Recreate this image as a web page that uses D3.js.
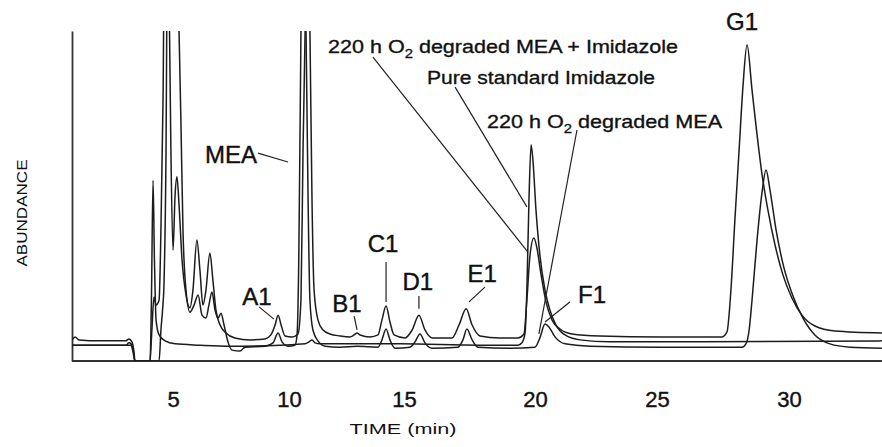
<!DOCTYPE html>
<html>
<head>
<meta charset="utf-8">
<title>Chromatogram</title>
<script src="https://d3js.org/d3.v7.min.js"></script>
<style>
  body { margin: 0; background: #fff; }
  svg { display: block; font-family: "Liberation Sans", Arial, sans-serif; }
  .trace { fill: none; stroke: #1c1c1c; stroke-width: 1.5; stroke-linejoin: round; }
  .leader { stroke: #222; stroke-width: 1.2; }
  .axis-line { stroke: #333; stroke-width: 1.8; }
  .peak-label { font-size: 24px; fill: #111; stroke: #111; stroke-width: 0.4px; }
  .note { font-size: 19px; fill: #111; stroke: #111; stroke-width: 0.35px; }
</style>
</head>
<body>
<svg width="882" height="447"></svg>
<script>
// time (min) and abundance (% of the plotted full scale, >100 is off scale)
const xTicks = [5, 10, 15, 20, 25, 30];
const timeRange = [0.65, 33.52];

// 220 h O2 degraded MEA + Imidazole
const mixTrace = [[0.65,6.4],[0.78,7.3],[0.95,6.4],[1.85,6.1],[2.97,6.1],[3.10,6.7],[3.23,5.8],[3.32,2.7],[3.36,0],[4.01,0],
  [4.09,9.4],[4.18,19.4],[4.27,17.0],[4.40,18.5],[4.48,39.7],[4.57,79],[4.66,150],[4.74,150],[4.85,100],[4.91,63.9],
  [5.00,33.6],[5.09,50.3],[5.17,55.8],[5.26,47.3],[5.39,30.6],[5.56,20.0],[5.73,16.1],[5.86,21.5],[6.03,36.7],[6.16,27.6],
  [6.29,17.0],[6.42,21.5],[6.59,32.7],[6.72,24.5],[6.85,15.5],[7.03,10.9],[7.28,8.5],[7.67,7.0],[8.32,6.4],[8.97,6.7],
  [9.22,7.9],[9.40,10.9],[9.53,13.9],[9.66,10.9],[9.83,7.6],[10.13,7.3],[10.39,8.2],[10.52,18.5],[10.61,63.9],[10.70,100],
  [10.78,150],[10.91,100],[11.00,48.8],[11.09,21.5],[11.26,12.4],[11.48,9.4],[11.78,8.2],[12.22,7.6],[12.65,7.3],[12.83,7.9],
  [12.96,8.5],[13.09,7.9],[13.52,7.3],[13.87,7.9],[14.04,12.4],[14.22,16.7],[14.39,11.8],[14.57,7.9],[15.04,7.0],[15.31,9.4],
  [15.57,13.9],[15.80,9.4],[16.07,7.0],[16.83,7.0],[17.10,10.9],[17.37,15.8],[17.60,10.9],[17.90,7.6],[18.66,7.0],[19.35,7.0],
  [19.58,8.2],[19.69,18.5],[19.81,32.1],[19.96,37.3],[20.08,34.2],[20.25,26.1],[20.45,17.9],[20.70,12.4],[21.02,9.7],[21.52,8.2],
  [22.66,7.6],[25.11,7.3],[27.46,7.3],[27.65,8.8],[27.80,21.5],[27.95,42.7],[28.11,63.9],[28.26,83.6],[28.41,95.8],[28.60,82.1],
  [28.79,68.5],[28.98,56.4],[29.20,45.8],[29.47,35.2],[29.77,26.1],[30.11,19.1],[30.49,13.9],[30.98,10.6],[31.74,9.1],[33.52,8.5]];

// 220 h O2 degraded MEA
const meaTrace = [[0.65,4.8],[1.85,4.8],[2.97,4.8],[3.10,5.5],[3.19,5.2],[3.28,3.3],[3.36,0],[4.40,0],[4.48,9.4],[4.55,15.5],
  [4.61,23.0],[4.70,63.9],[4.78,150],[4.96,160],[5.13,150],[5.26,100],[5.34,73.0],[5.43,39.7],[5.56,21.5],[5.73,14.8],
  [5.91,17.0],[6.08,20.0],[6.25,13.9],[6.42,13.0],[6.55,17.0],[6.68,20.9],[6.81,15.5],[6.94,13.0],[7.07,14.5],[7.20,10.9],
  [7.37,5.8],[7.54,3.3],[7.89,3.0],[8.10,4.2],[8.97,4.5],[9.31,5.5],[9.53,8.5],[9.70,5.8],[9.96,4.5],[10.26,4.8],
  [10.35,7.9],[10.43,33.6],[10.52,100],[10.61,150],[10.74,100],[10.83,48.8],[10.91,18.5],[11.04,9.4],[11.26,6.1],[11.57,4.5],
  [12.22,4.2],[12.96,4.5],[13.87,4.2],[14.04,6.4],[14.22,9.7],[14.39,6.4],[14.61,3.9],[15.23,4.2],[15.42,5.8],[15.61,8.2],
  [15.80,5.5],[16.07,3.9],[17.06,4.2],[17.25,6.4],[17.40,9.7],[17.60,6.4],[17.82,4.2],[19.05,3.9],[20.00,4.2],[20.20,7.0],
  [20.41,11.2],[20.57,10.3],[20.82,7.3],[21.23,5.2],[22.25,4.5],[25.11,4.2],[28.22,4.2],[28.37,5.2],[28.49,9.4],[28.60,18.5],
  [28.79,36.7],[28.98,51.2],[29.13,57.9],[29.28,51.8],[29.51,39.7],[29.81,28.2],[30.15,19.7],[30.53,13.0],[30.98,7.9],[31.55,5.2],
  [32.31,4.2],[33.52,3.9]];

// Pure standard Imidazole
const imidTrace = [[0.65,4.8],[2.97,4.8],[3.19,4.8],[3.28,2.7],[3.36,0],[4.01,0],[4.07,18.5],[4.14,54.8],[4.20,30.6],[4.27,12.4],
  [4.40,7.9],[4.66,6.1],[5.09,5.2],[6.16,4.8],[7.46,4.5],[9.61,4.8],[10.70,5.2],[10.87,5.8],[11.00,6.4],[11.13,5.5],
  [11.35,5.2],[14.83,5.2],[17.90,4.8],[19.35,4.8],[19.50,5.5],[19.62,8.5],[19.69,21.5],[19.77,48.8],[19.85,65.5],[19.92,60.9],
  [20.04,45.8],[20.20,32.1],[20.41,21.5],[20.61,15.5],[20.86,10.9],[21.23,7.9],[21.84,6.4],[23.07,5.8],[26.63,5.8],[33.52,6.1]];

// peak labels: text position and leader (time, abundance)
const peakLabels = [
  {name: 'MEA', t: 8.62, v: 60.0, anchor: 'end', from: [8.66, 63.0], to: [9.96, 60.3]},
  {name: 'A1', t: 8.62, v: 17.0, anchor: 'middle', from: [8.71, 16.4], to: [9.35, 12.7]},
  {name: 'B1', t: 12.52, v: 14.8, anchor: 'middle', from: [12.83, 13.6], to: [12.96, 9.4]},
  {name: 'C1', t: 14.09, v: 33.0, anchor: 'middle', from: [14.22, 30.0], to: [14.22, 17.9]},
  {name: 'D1', t: 15.53, v: 21.5, anchor: 'middle', from: [15.57, 19.7], to: [15.57, 15.8]},
  {name: 'E1', t: 17.98, v: 23.9, anchor: 'middle', from: [18.09, 22.4], to: [17.48, 17.9]},
  {name: 'F1', t: 22.34, v: 17.6, anchor: 'middle', from: [21.43, 17.9], to: [20.41, 11.8]},
  {name: 'G1', t: 28.22, v: 100.3, anchor: 'middle', from: null, to: null}
];

// trace names (with O2 subscript) and their leaders
const notes = [
  {pre: '220 h O', sub: '2', post: ' degraded MEA + Imidazole', t: 11.70, v: 93.3, len: 350, from: [13.65, 92.1], to: [19.73, 33.0]},
  {pre: 'Pure standard Imidazole', sub: '', post: '', t: 15.88, v: 83.9, len: 228, from: [16.95, 83.0], to: [19.69, 46.7]},
  {pre: '220 h O', sub: '2', post: ' degraded MEA', t: 18.17, v: 70.6, len: 235, from: [21.72, 70.0], to: [20.16, 8.2]}
];

const svg = d3.select('svg');
const margin = {top: 31, right: 0, bottom: 86, left: 72};
const width = svg.attr('width') - margin.left - margin.right;
const height = svg.attr('height') - margin.top - margin.bottom;

// the printed time axis is not evenly spaced, so map each tick to where it sits
const x = d3.scaleLinear().domain(xTicks).range([101, 217, 332, 463, 585, 717]);
const y = d3.scaleLinear().domain([0, 100]).range([height, 0]);

const g = svg.append('g').attr('transform', 'translate(' + margin.left + ',' + margin.top + ')');

g.append('clipPath').attr('id', 'plot-clip')
  .append('rect').attr('x', 0).attr('y', 0).attr('width', width).attr('height', height);

// axes
const xAxis = g.append('g')
  .attr('transform', 'translate(0,' + height + ')')
  .call(d3.axisBottom(x).tickValues(xTicks).tickSize(0).tickSizeOuter(0));
xAxis.select('.domain').remove();
xAxis.selectAll('text')
  .attr('y', 46).attr('dy', null)
  .style('font-size', '22px').style('fill', '#111')
  .style('stroke', '#111').style('stroke-width', '0.4px')
  .style('font-family', '"Liberation Sans", Arial, sans-serif');

g.append('line').attr('class', 'axis-line')
  .attr('x1', x(timeRange[0])).attr('x2', x(timeRange[1]))
  .attr('y1', height).attr('y2', height);

const yAxis = g.append('g').call(d3.axisLeft(y).tickValues([]).tickSizeOuter(0));
yAxis.select('.domain').attr('class', 'axis-line');

// axis titles
svg.append('text')
  .attr('x', 403).attr('y', 434)
  .attr('text-anchor', 'middle')
  .attr('textLength', 107).attr('lengthAdjust', 'spacingAndGlyphs')
  .style('font-size', '15px').style('fill', '#111')
  .text('TIME (min)');

svg.append('text')
  .attr('transform', 'translate(27,213) rotate(-90)')
  .attr('text-anchor', 'middle')
  .attr('textLength', 107).attr('lengthAdjust', 'spacingAndGlyphs')
  .style('font-size', '14px').style('fill', '#111')
  .text('ABUNDANCE');

// traces
const line = d3.line()
  .x(d => x(d[0]))
  .y(d => y(d[1]))
  .curve(d3.curveMonotoneX);

g.append('g').attr('clip-path', 'url(#plot-clip)')
  .selectAll('.trace')
  .data([imidTrace, meaTrace, mixTrace])
  .enter().append('path')
  .attr('class', 'trace')
  .attr('d', line);

// peak labels
peakLabels.forEach(p => {
  g.append('text')
    .attr('class', 'peak-label')
    .attr('x', x(p.t)).attr('y', y(p.v))
    .attr('text-anchor', p.anchor)
    .text(p.name);
  if (p.from) {
    g.append('line').attr('class', 'leader')
      .attr('x1', x(p.from[0])).attr('y1', y(p.from[1]))
      .attr('x2', x(p.to[0])).attr('y2', y(p.to[1]));
  }
});

// trace notes
notes.forEach(n => {
  const t = g.append('text')
    .attr('class', 'note')
    .attr('x', x(n.t)).attr('y', y(n.v))
    .attr('textLength', n.len).attr('lengthAdjust', 'spacingAndGlyphs');
  t.append('tspan').text(n.pre);
  if (n.sub) {
    t.append('tspan').attr('dy', 5).style('font-size', '13px').text(n.sub);
    t.append('tspan').attr('dy', -5).text(n.post);
  }
  g.append('line').attr('class', 'leader')
    .attr('x1', x(n.from[0])).attr('y1', y(n.from[1]))
    .attr('x2', x(n.to[0])).attr('y2', y(n.to[1]));
});
</script>
</body>
</html>
